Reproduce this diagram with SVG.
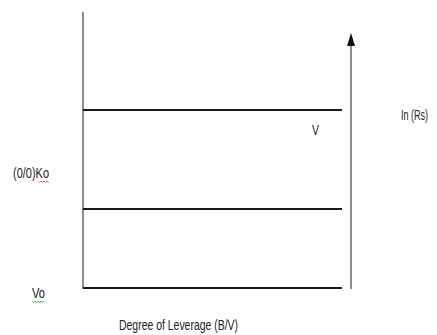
<svg xmlns="http://www.w3.org/2000/svg" width="437" height="335" viewBox="0 0 437 335">
<style>
.lbl{font-family:"Liberation Sans Narrow","Liberation Sans",Arial,sans-serif;font-size:15px;fill:#222}
.h{stroke:#1a1a1a;stroke-width:2;fill:none}
.v{stroke:#707070;stroke-width:1.6;fill:none}
</style>
<rect width="437" height="335" fill="#fff"/>
<g id="connectors">
<line class="v" x1="83" y1="12" x2="83" y2="289"/>
<line class="h" x1="83" y1="110" x2="342" y2="110"/>
<line class="h" x1="83" y1="209" x2="342" y2="209"/>
<line class="h" x1="83" y1="288" x2="342" y2="288"/>
<line class="v" x1="351" y1="289" x2="351" y2="46"/>
<path d="M351,33 L355,46 L347,46 Z" fill="#111"/>
</g>
<g id="label-ko">
<text class="lbl" x="13" y="178" textLength="36" lengthAdjust="spacingAndGlyphs">(0/0)Ko</text>
<path d="M38,181 l1.5,1.5 l1.5,-1.5 l1.5,1.5 l1.5,-1.5 l1.5,1.5 l1.5,-1.5 l1.5,1.5" stroke="#d04040" stroke-width="0.8" fill="none"/>
</g>
<g id="label-vo">
<text class="lbl" x="32" y="298" textLength="13" lengthAdjust="spacingAndGlyphs">Vo</text>
<path d="M32,301 l1.5,1.5 l1.5,-1.5 l1.5,1.5 l1.5,-1.5 l1.5,1.5 l1.5,-1.5 l1.5,1.5 l1.5,-1.5" stroke="#40a040" stroke-width="0.8" fill="none"/>
</g>
<g id="label-v">
<text class="lbl" x="312" y="135" textLength="7" lengthAdjust="spacingAndGlyphs">V</text>
</g>
<g id="label-rs">
<text class="lbl" transform="translate(401,120) scale(0.6,1)" x="0" y="0">In (Rs)</text>
</g>
<g id="label-x">
<text class="lbl" x="119" y="330" textLength="119" lengthAdjust="spacingAndGlyphs">Degree of Leverage (B/V)</text>
</g>
</svg>
